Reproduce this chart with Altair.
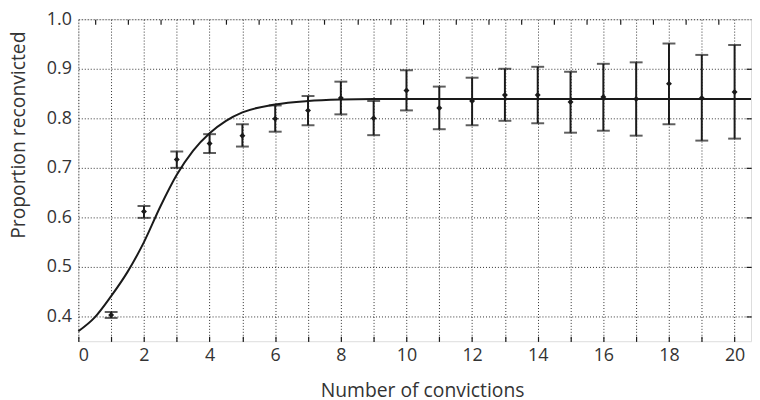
import altair as alt
import pandas as pd

# ---- data ----
convictions = list(range(1, 21))
proportion = [0.403, 0.612, 0.717, 0.749, 0.765, 0.799, 0.816, 0.841, 0.800, 0.856,
              0.821, 0.835, 0.847, 0.847, 0.833, 0.843, 0.839, 0.870, 0.841, 0.853]
ci_low = [0.397, 0.599, 0.700, 0.730, 0.743, 0.773, 0.786, 0.808, 0.766, 0.816,
          0.778, 0.786, 0.795, 0.790, 0.771, 0.775, 0.765, 0.788, 0.755, 0.759]
ci_high = [0.409, 0.623, 0.733, 0.768, 0.788, 0.826, 0.845, 0.874, 0.835, 0.897,
           0.864, 0.882, 0.900, 0.904, 0.894, 0.910, 0.913, 0.951, 0.928, 0.948]

fit_x = [0, 0.5, 1, 1.5, 2, 2.5, 3, 3.5, 4, 4.5, 5, 6, 7, 8, 9, 10, 20.5]
fit_y = [0.370, 0.398, 0.441, 0.490, 0.550, 0.622, 0.686, 0.735, 0.770, 0.795,
         0.812, 0.828, 0.835, 0.838, 0.839, 0.839, 0.839]

x_ticks = list(range(0, 21))
x_minor_top = [i + 0.5 for i in range(0, 20)]
y_ticks = [0.4, 0.5, 0.6, 0.7, 0.8, 0.9, 1.0]
y_right_ticks = [0.4, 0.5, 0.6, 0.7, 0.8, 0.9]

pts = pd.DataFrame({"n": convictions, "p": proportion, "lo": ci_low, "hi": ci_high})
fit = pd.DataFrame({"n": fit_x, "p": fit_y})

FONT = "Open Sans"
TXT = "#333333"
INK = "#1a1a1a"

xs = alt.Scale(domain=[0, 20.5], nice=False, zero=False)
ys = alt.Scale(domain=[0.35, 1.0], nice=False, zero=False)

x_bottom = alt.Axis(
    orient="bottom", values=x_ticks,
    labelExpr="datum.value % 2 == 0 ? datum.label : ''",
    grid=True, gridDash=[1, 2], gridColor=INK, gridWidth=1, gridOpacity=0.9,
    domain=False, ticks=True, tickSize=5, tickColor=INK, tickWidth=1.2, offset=-5,
    labelPadding=5, labelFont=FONT, labelFontSize=18, labelColor=TXT,
    title="Number of convictions", titleFont=FONT, titleFontSize=19.5,
    titleFontWeight="normal", titleColor=TXT, titlePadding=18,
    titleX=347, titleAlign="center",
)
y_left = alt.Axis(
    orient="left", values=y_ticks, format=".1f",
    grid=True, gridDash=[1, 2], gridColor=INK, gridWidth=1, gridOpacity=0.9,
    domain=False, ticks=False, labelPadding=7,
    labelFont=FONT, labelFontSize=18, labelColor=TXT,
    title="Proportion reconvicted", titleFont=FONT, titleFontSize=19.5,
    titleFontWeight="normal", titleColor=TXT,
    titleX=-60, titleY=116.5, titleBaseline="middle", titleAlign="center",
)
x_top = alt.Axis(
    orient="top", values=x_minor_top, labels=False, grid=False, domain=False,
    ticks=True, tickSize=5, tickColor=INK, tickWidth=1.2, offset=-5, title=None,
)
y_right = alt.Axis(
    orient="right", values=y_right_ticks, labels=False, grid=False, domain=False,
    ticks=True, tickSize=5, tickColor=INK, tickWidth=1.2, offset=-5, title=None,
)

bars = alt.Chart(pts).mark_rule(color=INK, strokeWidth=2).encode(
    x=alt.X("n:Q", scale=xs, axis=x_bottom),
    y=alt.Y("lo:Q", scale=ys, axis=y_left),
    y2="hi:Q",
)
curve = alt.Chart(fit).mark_line(color=INK, strokeWidth=2, interpolate="monotone").encode(
    x=alt.X("n:Q", scale=xs, axis=x_top),
    y=alt.Y("p:Q", scale=ys, axis=y_right),
)
cap_lo = alt.Chart(pts).mark_tick(color=INK, orient="horizontal", size=13, thickness=2).encode(
    x=alt.X("n:Q", scale=xs, axis=None),
    y=alt.Y("lo:Q", scale=ys, axis=None),
)
cap_hi = alt.Chart(pts).mark_tick(color=INK, orient="horizontal", size=13, thickness=2).encode(
    x=alt.X("n:Q", scale=xs, axis=None),
    y=alt.Y("hi:Q", scale=ys, axis=None),
)
dots = alt.Chart(pts).mark_point(color=INK, shape="diamond", filled=True, size=36, opacity=1).encode(
    x=alt.X("n:Q", scale=xs, axis=None),
    y=alt.Y("p:Q", scale=ys, axis=None),
)

chart = alt.layer(bars, curve, cap_lo, cap_hi, dots).resolve_axis(
    x="independent", y="independent"
).properties(
    width=679, height=325,
    autosize=alt.AutoSizeParams(type="none"),
    padding={"left": 71, "top": 9.5, "right": 1, "bottom": 60},
).configure_view(
    stroke=INK, strokeWidth=1.5
).configure(background="white")

chart.save("out.html", embed_options={"renderer": "svg", "actions": False})
